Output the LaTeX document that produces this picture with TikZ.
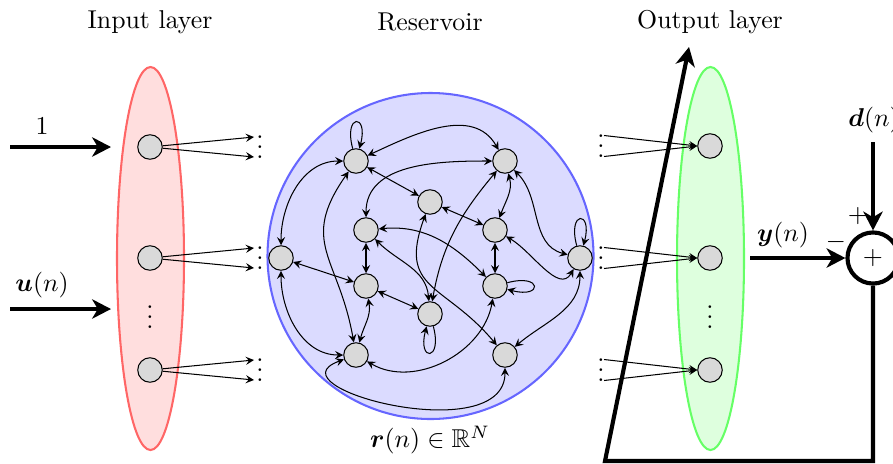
\documentclass[tikz,border=0pt]{standalone}
\usepackage{amsmath,amssymb}
\usepackage{tikz}
\usetikzlibrary{arrows.meta}

\begin{document}
\begin{tikzpicture}[x=3.876pt,y=3.876pt,
    neuron/.style={circle,draw,fill=gray!30,minimum size=9.5pt,inner sep=0pt},
    link/.style={<->,>=stealth},
    selfloop/.style={->,>=stealth},
    fan/.style={->,>=stealth},
    signal/.style={line width=1.6pt,-{Stealth[length=7.3pt,width=7.5pt,inset=2.2pt]}},
    dots/.style={inner sep=0pt,yshift=3pt}]
  \useasboundingbox (0,0) rectangle (89.3,-46.3);

  % layers
  \draw[red!60,fill=red!13,thick] (15.05,-25.85) ellipse [x radius=3.35,y radius=19.15];
  \draw[blue!60,fill=blue!14,thick] (43.05,-25.6) circle [radius=16.3];
  \draw[green!60,fill=green!13,thick] (71.05,-25.85) ellipse [x radius=3.35,y radius=19.15];

  \node (tin) at (15,-2.2) {Input layer};
  \node (tres) at (43,-2.2) {Reservoir};
  \node (tout) at (71,-2.2) {Output layer};
  \node (rlab) at (43,-44.0) {$\boldsymbol{r}(n)\in\mathbb{R}^N$};

  % input layer
  \foreach \i/\y in {1/-14.7,2/-25.8,3/-37}{
    \node[neuron] (in\i) at (15,\y) {};
    \coordinate (inA\i) at (25.4,\y+1);
    \coordinate (inB\i) at (25.4,\y-1);
    \draw[fan] (in\i) -- (inA\i);
    \draw[fan] (in\i) -- (inB\i);
    \node[dots] at (26.0,\y) {$\vdots$};
  }
  \node[dots] at (15,-31.7) {$\vdots$};

  \coordinate (oneA) at (1.0,-14.7);
  \coordinate (oneB) at (11.1,-14.7);
  \draw[signal] (oneA) -- (oneB);
  \node (onelab) at (4.2,-12.6) {$1$};
  \coordinate (uA) at (1.0,-30.9);
  \coordinate (uB) at (11.1,-30.9);
  \draw[signal] (uA) -- (uB);
  \node (ulab) at (4.2,-28.5) {$\boldsymbol{u}(n)$};

  % reservoir
  \foreach \n/\p in {1/{35.6,-16.1},2/{50.5,-16.1},3/{43.0,-20.2},4/{36.6,-23.0},
                     5/{49.5,-23.0},6/{28.1,-25.8},7/{58.0,-25.8},8/{36.6,-28.6},
                     9/{49.5,-28.6},10/{43.0,-31.4},11/{35.6,-35.5},12/{50.5,-35.5}}
    \node[neuron] (n\n) at (\p) {};

  \foreach \a/\b in {1/3,3/5,4/8,5/9,6/8,8/10}
    \draw[link] (n\a) -- (n\b);

  \foreach \a/\b/\o/\i/\l in {1/2/25/120/1, 1/6/180/90/1, 1/11/235/100/1.3,
      2/4/180/90/1, 2/5/-75/70/1, 2/7/-45/165/1, 2/10/230/80/1,
      3/12/250/130/1.4, 4/9/5/135/1, 4/10/-45/95/1, 5/7/-30/240/1,
      6/11/-90/180/1, 7/12/-90/40/1, 8/11/-80/75/1, 9/11/-100/-30/1,
      11/12/200/-90/1.3}
    \draw[link] (n\a) to[out=\o,in=\i,looseness=\l] (n\b);

  \draw[selfloop] (n1) to[loop above] (n1);
  \draw[selfloop] (n7) to[loop above] (n7);
  \draw[selfloop] (n9) to[loop right] (n9);
  \draw[selfloop] (n10) to[loop below] (n10);

  % output layer
  \foreach \i/\y in {1/-14.6,2/-25.8,3/-37}{
    \node[neuron] (out\i) at (71,\y) {};
    \coordinate (outA\i) at (60.4,\y+1.05);
    \coordinate (outB\i) at (60.4,\y-1.05);
    \draw[fan] (outA\i) -- (out\i.west);
    \draw[fan] (outB\i) -- (out\i.west);
    \node[dots] at (60.1,\y) {$\vdots$};
  }
  \node[dots] at (71,-31.7) {$\vdots$};

  % error and feedback
  \node[circle,draw,line width=1.6pt,minimum size=19.8pt,inner sep=0pt] (sum) at (87.3,-25.8) {$+$};
  \node (dlab) at (87.4,-12.0) {$\boldsymbol{d}(n)$};
  \coordinate (dstart) at (87.3,-14.2);
  \draw[signal] (dstart) -- (sum);
  \node (plus) at (85.8,-21.6) {$+$};
  \node (minus) at (83.6,-24.2) {$-$};
  \coordinate (ystart) at (75,-25.8);
  \draw[signal] (ystart) -- (sum);
  \node (ylab) at (78.3,-23.5) {$\boldsymbol{y}(n)$};
  \coordinate (fbcorner) at (60.5,-46.1);
  \coordinate (fbtip) at (68.9,-4.7);
  \draw[signal] (sum) |- (fbcorner) -- (fbtip);
\end{tikzpicture}
\end{document}
